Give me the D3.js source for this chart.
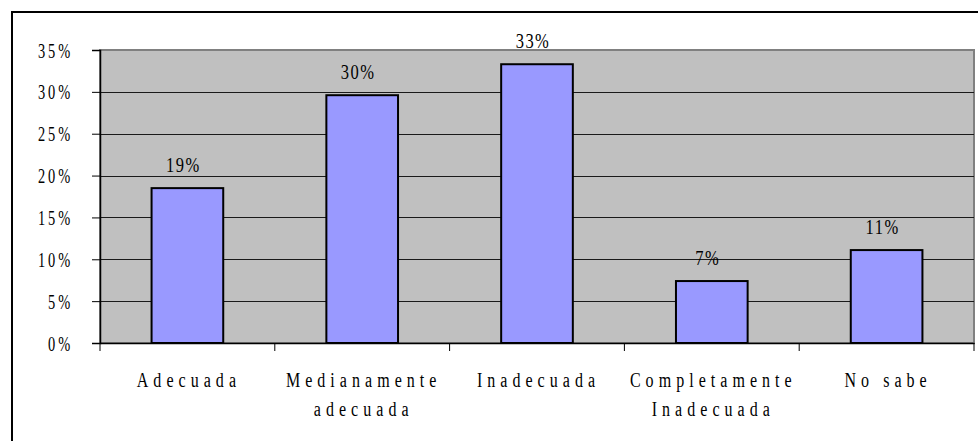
<!DOCTYPE html>
<html>
<head>
<meta charset="utf-8">
<script src="https://cdn.jsdelivr.net/npm/d3@7"></script>
<style>
  html, body { margin: 0; padding: 0; background: #ffffff; }
  svg { display: block; }
  text { font-family: "Liberation Serif", "Times New Roman", serif; fill: #000; }
</style>
</head>
<body>
<svg id="chart" width="978" height="441"></svg>
<script>
// ---- data ----
const categories = ["Adecuada", "Medianamente adecuada", "Inadecuada", "Completamente Inadecuada", "No sabe"];
const categoryLines = [["Adecuada"], ["Medianamente", "adecuada"], ["Inadecuada"], ["Completamente", "Inadecuada"], ["No sabe"]];
const values = [18.5, 29.6, 33.3, 7.4, 11.1];
const valueLabels = ["19%", "30%", "33%", "7%", "11%"];
const yTicks = [0, 5, 10, 15, 20, 25, 30, 35];
const yTickLabels = ["0%", "5%", "10%", "15%", "20%", "25%", "30%", "35%"];

// ---- layout ----
const svg = d3.select("#chart");
const plot = { left: 100, top: 50, right: 974, bottom: 343 };

const x = d3.scaleBand().domain(categories).range([plot.left, plot.right]).paddingInner(0).paddingOuter(0);
const y = d3.scaleLinear().domain([0, 35]).range([plot.bottom, plot.top]);

// outer frame (extends beyond the visible area on right/bottom)
svg.append("rect")
  .attr("x", 12).attr("y", 12)
  .attr("width", 990).attr("height", 460)
  .attr("fill", "#fff").attr("stroke", "#000").attr("stroke-width", 2);

// plot background
svg.append("rect")
  .attr("x", plot.left).attr("y", plot.top)
  .attr("width", plot.right - plot.left).attr("height", plot.bottom - plot.top)
  .attr("fill", "#c0c0c0").attr("stroke", "#808080").attr("stroke-width", 2);

// gridlines
svg.append("g").selectAll("line")
  .data(yTicks.filter(d => d > 0 && d < 35))
  .join("line")
  .attr("x1", plot.left).attr("x2", plot.right)
  .attr("y1", d => Math.round(y(d)) + 0.5).attr("y2", d => Math.round(y(d)) + 0.5)
  .attr("stroke", "#1a1a1a").attr("stroke-width", 1);

// bars
const barW = x.bandwidth() * 0.41;
svg.append("g").selectAll("rect")
  .data(values)
  .join("rect")
  .attr("x", (d, i) => x(categories[i]) + (x.bandwidth() - barW) / 2)
  .attr("y", d => y(d))
  .attr("width", barW)
  .attr("height", d => y(0) - y(d))
  .attr("fill", "#9999ff").attr("stroke", "#000").attr("stroke-width", 2);

// y axis
const yAxis = d3.axisLeft(y).tickValues(yTicks).tickSize(8).tickPadding(22)
  .tickFormat((d, i) => yTickLabels[i]);
const yG = svg.append("g").attr("transform", `translate(${plot.left},0)`).call(yAxis);
yG.select(".domain").attr("stroke", "#000").attr("stroke-width", 1.5);
yG.selectAll(".tick line").attr("stroke", "#000");
yG.selectAll(".tick text")
  .attr("font-family", "Liberation Serif, serif")
  .attr("font-size", 20)
  .style("letter-spacing", "4px")
  .attr("dy", "0.35em")
  .attr("x", 0)
  .attr("text-anchor", "end")
  .attr("transform", "translate(-27,0) scale(0.72,1)");

// x axis
const xAxis = d3.axisBottom(x).tickSize(0).tickFormat("");
const xG = svg.append("g").attr("transform", `translate(0,${plot.bottom})`).call(xAxis);
xG.select(".domain").attr("stroke", "#000").attr("stroke-width", 1.5);
const boundaries = categories.map(c => x(c)).concat([plot.right]);
xG.selectAll(".bnd").data(boundaries).join("line")
  .attr("class", "bnd")
  .attr("x1", d => d).attr("x2", d => d)
  .attr("y1", 0).attr("y2", 8)
  .attr("stroke", "#000").attr("stroke-width", 1);

// category labels
const catG = svg.append("g");
categoryLines.forEach((lines, i) => {
  const cx = x(categories[i]) + x.bandwidth() / 2;
  lines.forEach((ln, j) => {
    catG.append("text")
      .attr("transform", `translate(${cx + 1.5},${387 + j * 29}) scale(0.8,1)`)
      .attr("text-anchor", "middle")
      .attr("font-size", 20)
      .style("letter-spacing", "6.3px")
      .text(ln);
  });
});

// value labels
svg.append("g").selectAll("text")
  .data(values)
  .join("text")
  .attr("transform", (d, i) => `translate(${x(categories[i]) + x.bandwidth() / 2 - 4},${y(d) - 16}) scale(0.75,1)`)
  .attr("text-anchor", "middle")
  .attr("font-size", 22)
  .style("letter-spacing", "2px")
  .text((d, i) => valueLabels[i]);
</script>
</body>
</html>
